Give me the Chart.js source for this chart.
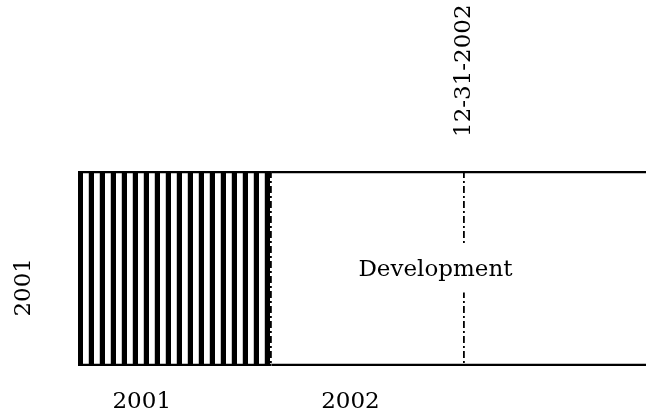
<!DOCTYPE html>
<html>
<head>
<meta charset="utf-8">
<script src="https://cdn.jsdelivr.net/npm/chart.js@4/dist/chart.umd.min.js"></script>
<style>
  html, body { margin: 0; padding: 0; background: #fff; overflow: hidden; }
  canvas { display: block; }
</style>
</head>
<body>
<canvas id="ganttChart" width="646" height="414"></canvas>
<script>
// rows and phases
const rowLabels = ['2001'];
const phaseNames = ['', 'Development'];
const phaseStarts = [2001, 2002];
const phaseEnds = [2002, 2003.94];
const phaseLabelAt = [null, 2002.85];

// axis ticks
const xMin = 2001;
const xMax = 2003.94;
const bottomTickValues = [2001.33, 2002.41];
const bottomTickLabels = ['2001', '2002'];
const markerValues = [2002, 2003];
const markerLabels = ['', '12-31-2002'];

const FONT = '"DejaVu Serif", "Liberation Serif", serif';
Chart.defaults.font.family = FONT;
Chart.defaults.font.size = 23;
Chart.defaults.color = '#000';

const canvas = document.getElementById('ganttChart');
const ctx = canvas.getContext('2d');

const makeStripes = () => {
    const c = document.createElement('canvas');
    c.width = 11;
    c.height = 1;
    const g = c.getContext('2d');
    g.fillStyle = '#fff';
    g.fillRect(0, 0, 11, 1);
    g.fillStyle = '#c8c8c8';
    g.fillRect(0, 0, 1, 1);
    g.fillStyle = '#000';
    g.fillRect(1, 0, 5, 1);
    return ctx.createPattern(c, 'repeat');
};

const phaseLabelPlugin = {
    id: 'phaseLabels',
    afterDraw: (chart) => {
        const c = chart.ctx;
        const x = chart.scales.x;
        const y = chart.scales.y;
        c.save();
        c.font = '23px ' + FONT;
        phaseNames.forEach((text, i) => {
            if (!text) return;
            const px = x.getPixelForValue(phaseLabelAt[i]);
            const py = y.getPixelForValue(0);
            const w = c.measureText(text).width;
            c.fillStyle = '#fff';
            c.fillRect(px - w / 2 - 4, py - 25, w + 8, 49);
            c.fillStyle = '#000';
            c.textAlign = 'center';
            c.textBaseline = 'middle';
            c.fillText(text, px, py + 2);
        });
        c.restore();
    }
};

const edge = { top: 2.6, bottom: 2.6, left: 0, right: 0 };

new Chart(ctx, {
    type: 'bar',
    data: {
        labels: rowLabels,
        datasets: [
            {
                data: [[phaseStarts[0], phaseEnds[0]]],
                backgroundColor: makeStripes(),
                borderColor: '#000',
                borderWidth: edge,
                borderSkipped: false
            },
            {
                data: [[phaseStarts[1], phaseEnds[1]]],
                backgroundColor: '#fff',
                borderColor: '#000',
                borderWidth: edge,
                borderSkipped: false
            }
        ]
    },
    options: {
        indexAxis: 'y',
        responsive: false,
        animation: false,
        devicePixelRatio: 1,
        grouped: false,
        barPercentage: 1,
        categoryPercentage: 1,
        layout: { padding: 0 },
        plugins: {
            legend: { display: false },
            tooltip: { enabled: false }
        },
        scales: {
            x: {
                type: 'linear',
                position: 'bottom',
                min: xMin,
                max: xMax,
                afterBuildTicks: (scale) => {
                    scale.ticks = bottomTickValues.map(value => ({ value }));
                },
                afterFit: (scale) => {
                    scale.height = 48;
                    scale.paddingLeft = 0;
                    scale.paddingRight = 0;
                },
                ticks: {
                    autoSkip: false,
                    maxRotation: 0,
                    padding: 22,
                    callback: (value, index) => bottomTickLabels[index]
                },
                grid: { display: false, drawTicks: false },
                border: { display: false }
            },
            xTop: {
                type: 'linear',
                position: 'top',
                min: xMin,
                max: xMax,
                afterBuildTicks: (scale) => {
                    scale.ticks = markerValues.map(value => ({ value }));
                },
                afterFit: (scale) => {
                    scale.height = 171;
                    scale.paddingLeft = 0;
                    scale.paddingRight = 0;
                },
                ticks: {
                    autoSkip: false,
                    minRotation: 90,
                    maxRotation: 90,
                    padding: 34,
                    labelOffset: 27.5,
                    callback: (value, index) => markerLabels[index]
                },
                grid: {
                    drawTicks: false,
                    color: '#000',
                    lineWidth: 1.8,
                    z: 1
                },
                border: { display: false, dash: [7, 3, 2, 3] }
            },
            y: {
                type: 'category',
                afterFit: (scale) => {
                    scale.width = 78;
                    scale.paddingTop = 0;
                    scale.paddingBottom = 0;
                },
                ticks: {
                    minRotation: 90,
                    maxRotation: 90,
                    padding: 54,
                    labelOffset: -10.5
                },
                grid: { display: false, drawTicks: false },
                border: { display: false }
            }
        }
    },
    plugins: [phaseLabelPlugin]
});
</script>
</body>
</html>
